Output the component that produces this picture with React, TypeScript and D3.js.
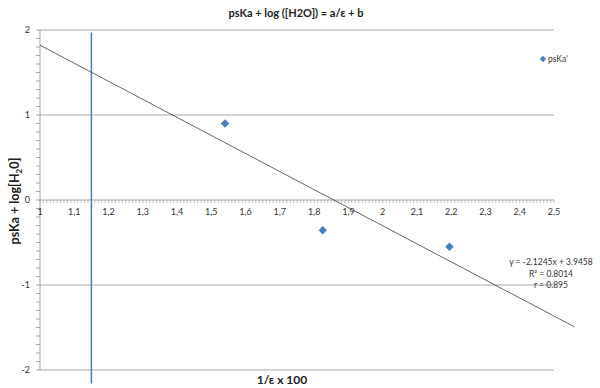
import * as d3 from 'd3';
import { useEffect, useRef } from 'react';

// measured points
const xValues = [1.54, 1.825, 2.195];
const yValues = [0.9, -0.355, -0.55];

// the vertical blue series
const lineX = [1.15, 1.15];
const lineY = [1.97, -2.16];

// trendline y = a*x + b, drawn over trendRange
const slope = -2.1245;
const intercept = 3.9458;
const trendRange = [1, 2.56];

const xTicks = [1, 1.1, 1.2, 1.3, 1.4, 1.5, 1.6, 1.7, 1.8, 1.9, 2, 2.1, 2.2, 2.3, 2.4, 2.5];
const yTicks = [-2, -1, 0, 1, 2];
const eqLines = ['y = -2.1245x + 3.9458', 'R² = 0.8014', 'r = 0.895'];

const font = 'Lato, "Open Sans", sans-serif';
const blue = '#4a7ebb';

// square-ish diamond like excel's marker
const diamondPath = (r: number) => `M0,${-r}L${r},0L0,${r}L${-r},0Z`;

function App() {
    const svgRef = useRef<SVGSVGElement>(null);

    useEffect(() => {
        const w = 600;
        const h = 388;
        const svg = d3.select(svgRef.current).attr('width', w).attr('height', h);
        svg.selectAll('*').remove();

        const x = d3.scaleLinear().domain([1, 2.5]).range([40, 554]);
        const y = d3.scaleLinear().domain([-2, 2]).range([370, 30]);

        // gridlines
        svg.append('g')
            .selectAll('line')
            .data(yTicks.filter((d) => d !== 0))
            .enter()
            .append('line')
            .attr('x1', x(1))
            .attr('x2', x(2.5))
            .attr('y1', (d) => y(d))
            .attr('y2', (d) => y(d))
            .attr('stroke', '#a6a6a6')
            .attr('stroke-width', 1);

        // y axis line + minor ticks
        svg.append('line')
            .attr('x1', x(1)).attr('x2', x(1))
            .attr('y1', y(2)).attr('y2', y(-2))
            .attr('stroke', '#a6a6a6');
        const yMinor = d3.range(-20, 21).map((i) => i / 10);
        svg.append('g')
            .selectAll('line')
            .data(yMinor)
            .enter()
            .append('line')
            .attr('x1', x(1) - 4)
            .attr('x2', x(1))
            .attr('y1', (d) => y(d))
            .attr('y2', (d) => y(d))
            .attr('stroke', '#a6a6a6');
        svg.append('g')
            .selectAll('text')
            .data(yTicks)
            .enter()
            .append('text')
            .attr('x', 30)
            .attr('y', (d) => y(d) + 3)
            .attr('text-anchor', 'end')
            .attr('font-family', font)
            .attr('font-size', 9)
            .attr('fill', '#333')
            .text((d) => (d < 0 ? '-' + Math.abs(d) : String(d)));

        // x axis at y = 0
        svg.append('line')
            .attr('x1', x(1)).attr('x2', x(2.5))
            .attr('y1', y(0)).attr('y2', y(0))
            .attr('stroke', '#a6a6a6');
        const xMinor = d3.range(100, 251).map((i) => i / 100);
        svg.append('g')
            .selectAll('line')
            .data(xMinor)
            .enter()
            .append('line')
            .attr('x1', (d) => x(d))
            .attr('x2', (d) => x(d))
            .attr('y1', y(0))
            .attr('y2', y(0) + 3)
            .attr('stroke', '#a6a6a6')
            .attr('stroke-width', 0.7);
        svg.append('g')
            .selectAll('text')
            .data(xTicks)
            .enter()
            .append('text')
            .attr('x', (d) => x(d))
            .attr('y', y(0) + 15)
            .attr('text-anchor', 'middle')
            .attr('font-family', font)
            .attr('font-size', 9)
            .attr('fill', '#333')
            .text((d) => d3.format('~g')(d).replace('.', ','));

        // vertical blue series
        const lineData = lineX.map((v, i) => [v, lineY[i]] as [number, number]);
        svg.append('path')
            .attr('d', d3.line<[number, number]>().x((d) => x(d[0])).y((d) => y(d[1]))(lineData))
            .attr('stroke', blue)
            .attr('stroke-width', 1.5)
            .attr('fill', 'none');

        // trendline
        const trend = trendRange.map((v) => [v, slope * v + intercept] as [number, number]);
        svg.append('path')
            .attr('d', d3.line<[number, number]>().x((d) => x(d[0])).y((d) => y(d[1]))(trend))
            .attr('stroke', '#222')
            .attr('stroke-width', 0.7)
            .attr('fill', 'none');

        // points
        svg.append('g')
            .selectAll('path')
            .data(xValues.map((v, i) => [v, yValues[i]]))
            .enter()
            .append('path')
            .attr('d', diamondPath(4.2))
            .attr('transform', (d) => `translate(${x(d[0])},${y(d[1])})`)
            .attr('fill', blue);

        // legend
        svg.append('path')
            .attr('d', diamondPath(3.2))
            .attr('transform', 'translate(543,59)')
            .attr('fill', blue);
        svg.append('text')
            .attr('x', 548)
            .attr('y', 62)
            .attr('font-family', font)
            .attr('font-size', 8.5)
            .attr('fill', '#333')
            .text("psKa'");

        // equation
        svg.append('g')
            .selectAll('text')
            .data(eqLines)
            .enter()
            .append('text')
            .attr('x', 551)
            .attr('y', (d, i) => 265 + i * 11.5)
            .attr('text-anchor', 'middle')
            .attr('font-family', font)
            .attr('font-size', 8.5)
            .attr('fill', '#333')
            .text((d) => d);

        // titles
        svg.append('text')
            .attr('x', 296)
            .attr('y', 17)
            .attr('text-anchor', 'middle')
            .attr('font-family', font)
            .attr('font-weight', 'bold')
            .attr('font-size', 11)
            .attr('fill', '#222')
            .text('psKa + log ([H2O]) = a/ε + b');

        svg.append('text')
            .attr('x', 282)
            .attr('y', 384)
            .attr('text-anchor', 'middle')
            .attr('font-family', font)
            .attr('font-weight', 'bold')
            .attr('font-size', 12)
            .attr('fill', '#222')
            .text('1/ε x 100');

        const yt = svg.append('text')
            .attr('transform', 'translate(19,201) rotate(-90)')
            .attr('text-anchor', 'middle')
            .attr('font-family', font)
            .attr('font-weight', 'bold')
            .attr('font-size', 12.5)
            .attr('fill', '#222');
        yt.append('tspan').text('psKa + log[H');
        yt.append('tspan').attr('font-size', 8).attr('dy', 3).text('2');
        yt.append('tspan').attr('dy', -3).text('0]');
    }, []);

    return <svg ref={svgRef} style={{ position: 'absolute', left: 0, top: 0 }}></svg>;
}

export default App;
